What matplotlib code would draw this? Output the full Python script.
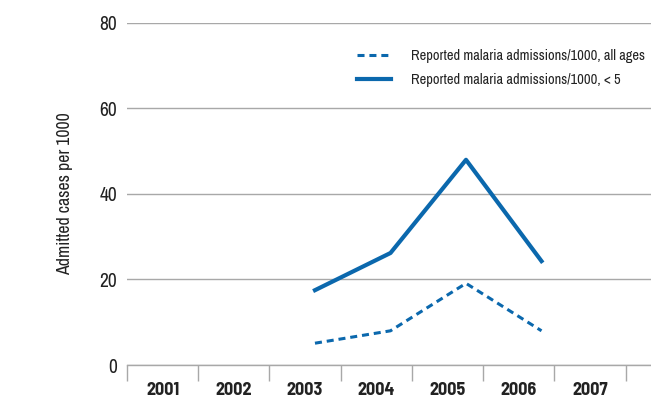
import numpy as np
from matplotlib import pyplot as plt
from matplotlib import rc

rc('font', family=['Archivo Narrow', 'DejaVu Sans'])

years = ['2001', '2002', '2003', '2004', '2005', '2006', '2007']
all_ages = [np.nan, np.nan, 5.1, 8.0, 19.1, 8.0, np.nan]
under5 = [np.nan, np.nan, 17.5, 26.2, 48.0, 24.3, np.nan]
yticks = [0, 20, 40, 60, 80]

blue = '#0b68ad'
grey = '#a8a8a8'
text = '#222222'

fig = plt.figure(figsize=(6.51, 3.99), dpi=100)
ax = fig.add_axes([0.195, 0.0852, 0.805, 0.8572])

x = np.arange(len(years))
ax.set_xlim(-0.5, 6.856)
ax.set_ylim(0, 80)

# gridlines
ax.set_yticks(yticks)
ax.yaxis.grid(True, color=grey, linewidth=1.0)
ax.set_axisbelow(True)
ax.tick_params(axis='y', length=0, pad=7, labelsize=14, labelcolor=text)

ax.set_xticks(x)
ax.set_xticklabels(years, fontweight='bold', fontsize=13, color=text,
                   family=['Barlow Semi Condensed', 'DejaVu Sans'])
ax.set_xticks(np.arange(len(years) + 1) - 0.5, minor=True)
ax.tick_params(axis='x', which='major', length=0, pad=12)
ax.tick_params(axis='x', which='minor', length=11.5, width=1.0, color=grey)

for s in ['top', 'right', 'left']:
    ax.spines[s].set_visible(False)
ax.spines['bottom'].set_color(grey)
ax.spines['bottom'].set_linewidth(1.0)

ax.set_ylabel('Admitted cases per 1000', fontsize=12.8, color=text, labelpad=19)

# the lines sit on their own x scale
ax2 = ax.twiny()
ax2.set_xlim(-0.49, 6.45)
ax2.set_ylim(0, 80)
ax2.axis('off')
l1, = ax2.plot(x, all_ages, color=blue, lw=2.2, ls=(0, (2.3, 1.6)),
               label='Reported malaria admissions/1000, all ages')
l2, = ax2.plot(x, under5, color=blue, lw=3.0,
               label='Reported malaria admissions/1000, < 5')

leg = ax2.legend(handles=[l1, l2], loc='upper right', frameon=False,
                 fontsize=10.4, bbox_to_anchor=(1.0, 0.94), borderaxespad=0,
                 handlelength=2.35, handletextpad=1.4, labelspacing=0.7)
for t in leg.get_texts():
    t.set_color(text)

fig.savefig('out.png', dpi=100)
